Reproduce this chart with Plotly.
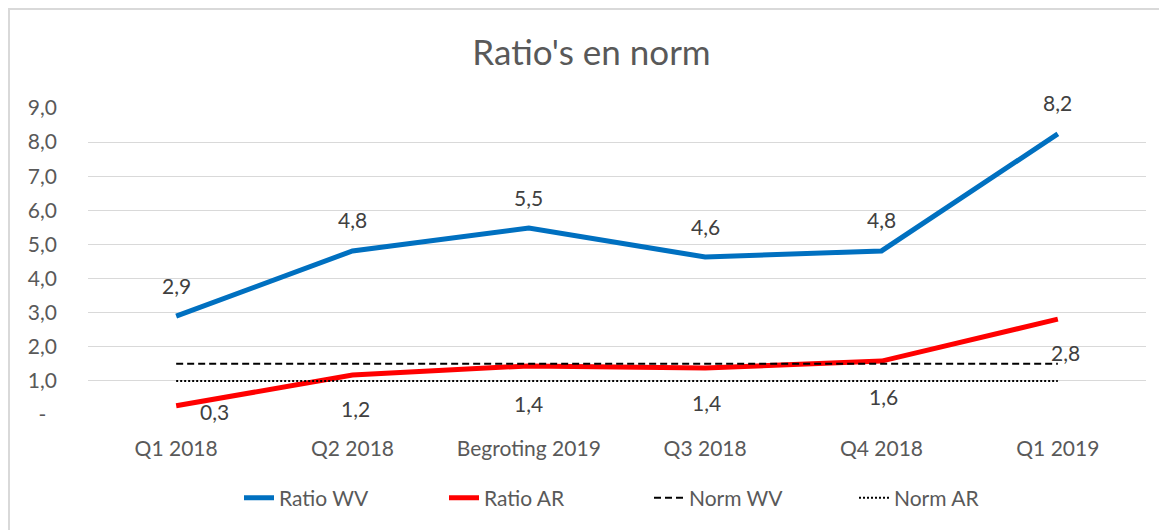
import plotly.graph_objects as go

categories = ["Q1 2018", "Q2 2018", "Begroting 2019", "Q3 2018", "Q4 2018", "Q1 2019"]
ratio_wv = [2.90, 4.81, 5.48, 4.63, 4.81, 8.24]
ratio_ar = [0.27, 1.17, 1.44, 1.38, 1.58, 2.81]
norm_wv = [1.5, 1.5, 1.5, 1.5, 1.5, 1.5]
norm_ar = [1.0, 1.0, 1.0, 1.0, 1.0, 1.0]
y_tickvals = [0, 1, 2, 3, 4, 5, 6, 7, 8, 9]
y_ticktext = ["-\u00a0\u00a0", "1,0", "2,0", "3,0", "4,0", "5,0", "6,0", "7,0", "8,0", "9,0"]

# label offsets (pixels) - styling only
wv_shift = [(0, 31)] * 6
ar_shift = [(38, -6), (3, -33), (0, -38), (1, -35), (2, -35), (8, -33)]

FONT = "Lato, 'Open Sans', sans-serif"
TXT = "#595959"
FS = 21

def fmt(v):
    return f"{v:.1f}".replace(".", ",")

fig = go.Figure()
fig.add_trace(go.Scatter(x=categories, y=ratio_wv, mode="lines", name="Ratio WV",
                         line=dict(color="#0070C0", width=5)))
fig.add_trace(go.Scatter(x=categories, y=ratio_ar, mode="lines", name="Ratio AR",
                         line=dict(color="#FF0000", width=5)))
fig.add_trace(go.Scatter(x=categories, y=norm_wv, mode="lines", name="Norm WV",
                         line=dict(color="#000000", width=2, dash="7px,4px")))
fig.add_trace(go.Scatter(x=categories, y=norm_ar, mode="lines", name="Norm AR",
                         line=dict(color="#000000", width=2, dash="2px,2px")))

annotations = []
for c, v, (dx, dy) in zip(categories, ratio_wv, wv_shift):
    annotations.append(dict(x=c, y=v, text=fmt(v), showarrow=False, xshift=dx, yshift=dy,
                            font=dict(family=FONT, size=FS, color="#404040")))
for c, v, (dx, dy) in zip(categories, ratio_ar, ar_shift):
    annotations.append(dict(x=c, y=v, text=fmt(v), showarrow=False, xshift=dx, yshift=dy,
                            font=dict(family=FONT, size=FS, color="#404040")))

# page has an 8px body margin; plot area is placed so it lands at 88..1146 x 108..415 on screen
def px_x(p):
    return (p - 88) / 1058.0

def px_y(p):
    return (415 - p) / 307.0

shapes = [
    dict(type="line", xref="paper", yref="paper", x0=px_x(9), x1=px_x(1175), y0=px_y(9), y1=px_y(9),
         line=dict(color="#d9d9d9", width=2)),
    dict(type="line", xref="paper", yref="paper", x0=px_x(9), x1=px_x(9), y0=px_y(8), y1=px_y(540),
         line=dict(color="#d9d9d9", width=2)),
]

fig.update_layout(
    width=1167, height=530,
    margin=dict(l=80, r=29, t=100, b=123, autoexpand=False),
    paper_bgcolor="white", plot_bgcolor="white",
    title=dict(text="Ratio's en norm", x=0.5, xanchor="center", xref="container", y=1 - 45 / 530, yanchor="middle",
               font=dict(family=FONT, size=35, color=TXT)),
    font=dict(family=FONT, color=TXT, size=FS),
    xaxis=dict(type="category", range=[-0.5, 5.5], showgrid=False, showline=False, zeroline=False,
               ticks="", tickfont=dict(size=FS, color=TXT), ticklabelstandoff=19, automargin=False),
    yaxis=dict(range=[0, 9], tickvals=y_tickvals, ticktext=y_ticktext, showgrid=True,
               gridcolor="#d9d9d9", gridwidth=1, zeroline=False, showline=False, ticks="",
               tickfont=dict(size=FS, color=TXT), ticklabelstandoff=30, automargin=False),
    legend=dict(orientation="h", x=px_x(239), xanchor="left", xref="paper", y=px_y(498), yanchor="middle",
                font=dict(size=FS, color=TXT), entrywidth=160, entrywidthmode="pixels",
                traceorder="normal"),
    showlegend=True,
    annotations=annotations,
    shapes=shapes,
)
fig.update_traces(cliponaxis=False)

fig.write_html("out.html")
